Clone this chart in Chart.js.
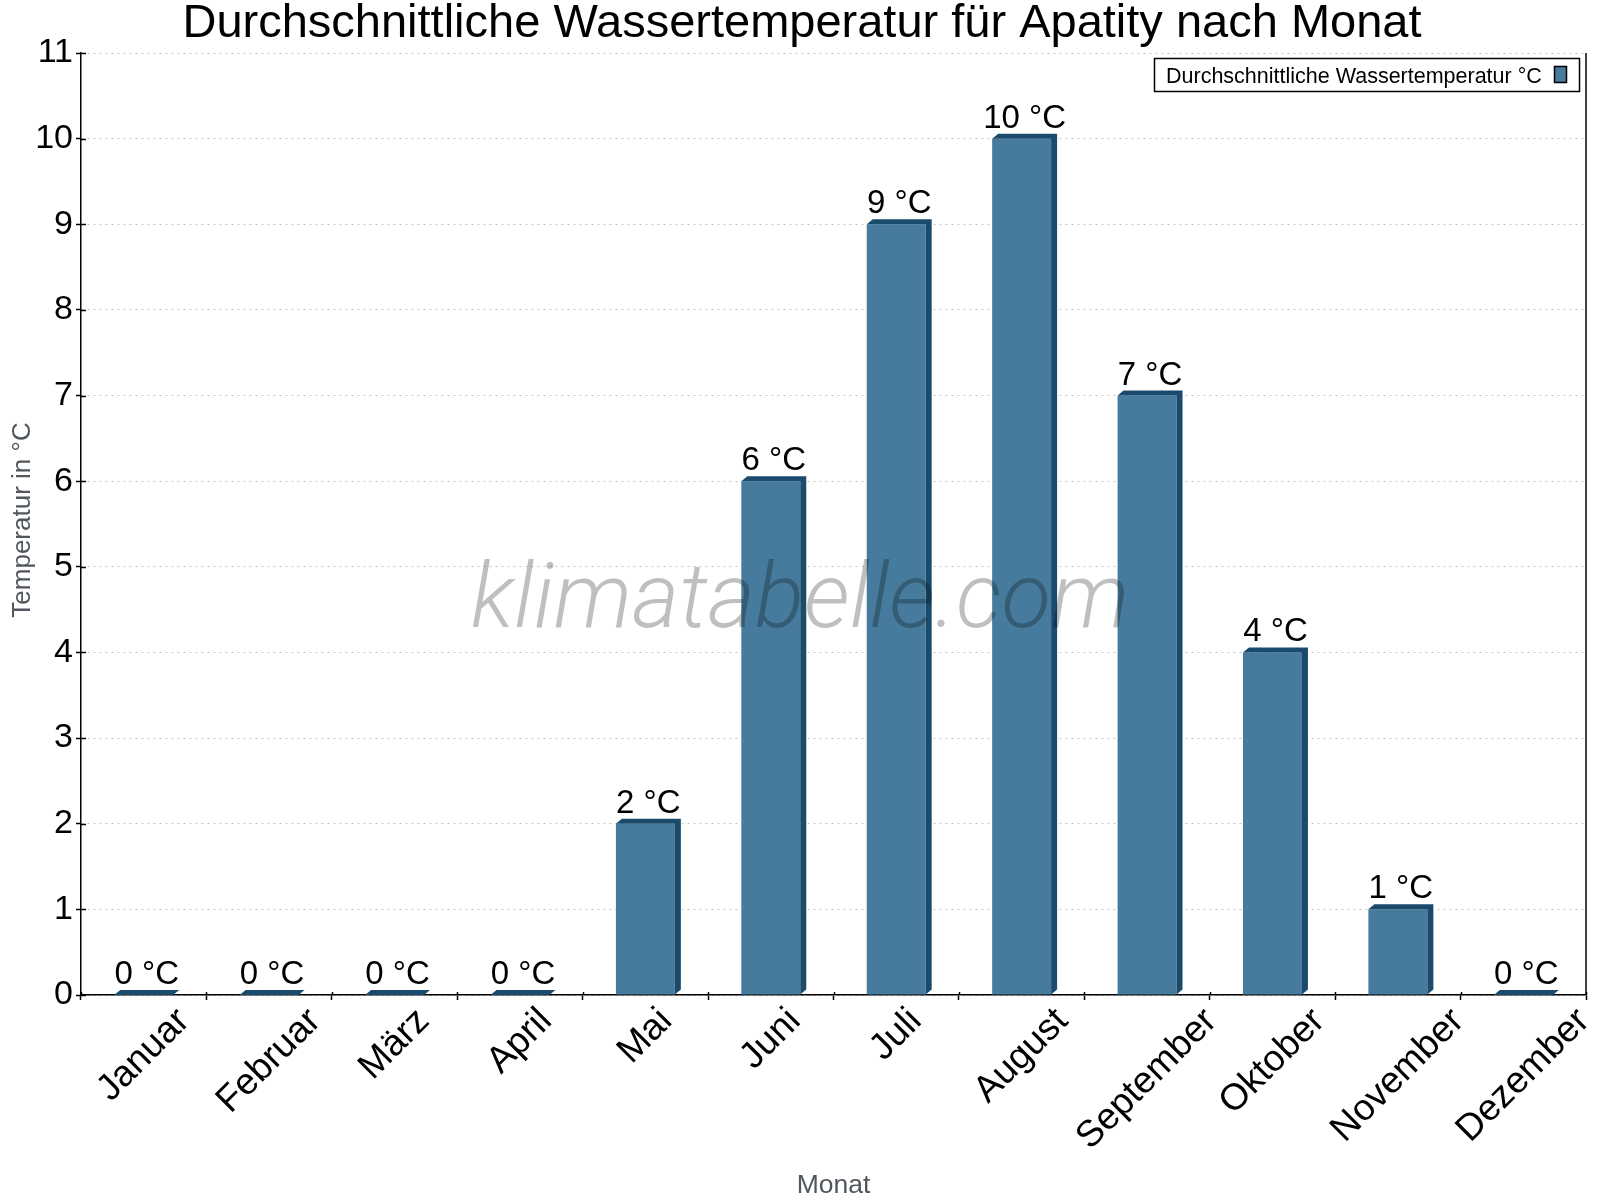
<!DOCTYPE html>
<html><head><meta charset="utf-8">
<script src="https://cdn.jsdelivr.net/npm/chart.js@4.4.1/dist/chart.umd.min.js"></script>
<style>html,body{margin:0;padding:0;background:#fff}canvas{display:block}</style>
</head><body>
<canvas id="c" width="1600" height="1200"></canvas>
<script>
// ---- data ----
const months = ['Januar','Februar','März','April','Mai','Juni','Juli','August','September','Oktober','November','Dezember'];
const waterTemp = [0, 0, 0, 0, 2, 6, 9, 10, 7, 4, 1, 0];
const yTickValues = [0,1,2,3,4,5,6,7,8,9,10,11];
const titleText = 'Durchschnittliche Wassertemperatur für Apatity nach Monat';
const seriesLabel = 'Durchschnittliche Wassertemperatur °C';
const yTitle = 'Temperatur in °C';
const xTitle = 'Monat';
const watermarkText = 'klimatabelle.com';
const unitSuffix = ' °C';

// ---- styles ----
const FONT = '"Liberation Sans", Arial, Helvetica, sans-serif';
const FRONT = '#467b9d';
const DARK = '#1a4b6c';
const GREY_TXT = '#51575d';
const DX = 6, DY = 5;

const decor = {
  id: 'decor',
  afterDatasetsDraw(chart) {
    const ctx = chart.ctx;
    const meta = chart.getDatasetMeta(0);
    ctx.save();
    // 3D top and side faces
    ctx.fillStyle = DARK;
    meta.data.forEach(bar => {
      const p = bar.getProps(['x','y','base','width'], true);
      const x0 = p.x - p.width/2, x1 = p.x + p.width/2, y = p.y, b = p.base;
      ctx.beginPath();
      ctx.moveTo(x0, y);
      ctx.lineTo(x0 + DX, y - DY);
      ctx.lineTo(x1 + DX, y - DY);
      ctx.lineTo(x1 + DX, b - DY);
      ctx.lineTo(x1, b);
      ctx.lineTo(x1, y);
      ctx.closePath();
      ctx.fill();
    });
    // value labels
    ctx.fillStyle = '#000';
    ctx.font = '33px ' + FONT;
    ctx.textAlign = 'center';
    ctx.textBaseline = 'alphabetic';
    meta.data.forEach((bar, i) => {
      const p = bar.getProps(['x','y'], true);
      ctx.fillText(chart.data.datasets[0].data[i] + unitSuffix, p.x + DX/2, p.y - 11);
    });
    ctx.restore();
  },
  afterDraw(chart) {
    const ctx = chart.ctx;
    const ca = chart.chartArea;
    const xs = chart.scales.x, ys = chart.scales.y;
    ctx.save();
    // right border
    ctx.strokeStyle = '#000';
    ctx.lineWidth = 1.5;
    ctx.beginPath();
    ctx.moveTo(ca.right, ca.top);
    ctx.lineTo(ca.right, ca.bottom);
    ctx.stroke();
    // inner tick stubs
    ys.ticks.forEach(t => {
      const py = Math.round(ys.getPixelForValue(t.value)) + 0.5;
      ctx.beginPath(); ctx.moveTo(ca.left, py); ctx.lineTo(ca.left + 5, py); ctx.stroke();
    });
    for (let i = 0; i <= months.length; i++) {
      const px = Math.round(xs.getPixelForValue(i - 0.5)) + 0.5;
      ctx.beginPath(); ctx.moveTo(px, ca.bottom); ctx.lineTo(px, ca.bottom - 3); ctx.stroke();
    }
    // x labels rotated -45, bbox centred on category
    ctx.fillStyle = '#000';
    ctx.font = '37px ' + FONT;
    ctx.textAlign = 'center';
    ctx.textBaseline = 'middle';
    const fh = 32;
    chart.data.labels.forEach((lab, i) => {
      const w = ctx.measureText(lab).width;
      const side = (w + fh) * Math.SQRT1_2;
      const cx = xs.getPixelForValue(i);
      const cy = 1004 + side / 2;
      ctx.save();
      ctx.translate(cx, cy);
      ctx.rotate(-Math.PI / 4);
      ctx.fillText(lab, 0, 0);
      ctx.restore();
    });
    // title
    ctx.font = '47px ' + FONT;
    ctx.textAlign = 'center';
    ctx.textBaseline = 'alphabetic';
    ctx.fillText(titleText, 802, 37);
    // axis titles
    ctx.fillStyle = GREY_TXT;
    ctx.font = '26.5px ' + FONT;
    ctx.fillText(xTitle, (ca.left + ca.right) / 2, 1193);
    ctx.save();
    ctx.translate(30, 520);
    ctx.rotate(-Math.PI / 2);
    ctx.font = '26px ' + FONT;
    ctx.fillText(yTitle, 0, 0);
    ctx.restore();
    // legend
    ctx.fillStyle = '#fff';
    ctx.fillRect(1154, 58, 426, 34);
    ctx.strokeStyle = '#000';
    ctx.lineWidth = 1.5;
    ctx.strokeRect(1154.5, 58.5, 425, 33);
    ctx.fillStyle = '#000';
    ctx.font = '21.5px ' + FONT;
    ctx.textAlign = 'left';
    ctx.fillText(chart.data.datasets[0].label, 1166, 83);
    ctx.fillStyle = FRONT;
    ctx.fillRect(1554, 66, 13, 17);
    ctx.strokeRect(1554.5, 66.5, 12, 16);
    // watermark
    ctx.font = 'italic 300 91px Roboto, sans-serif';
    ctx.textAlign = 'center';
    ctx.fillStyle = 'rgba(0,0,0,0.25)';
    ctx.fillText(watermarkText, 800, 627);
    ctx.restore();
  }
};

new Chart(document.getElementById('c'), {
  type: 'bar',
  data: {
    labels: months,
    datasets: [{
      label: seriesLabel,
      data: waterTemp,
      backgroundColor: FRONT,
      borderWidth: 0,
      barPercentage: 0.47,
      categoryPercentage: 1.0
    }]
  },
  options: {
    responsive: false,
    animation: false,
    devicePixelRatio: 1,
    layout: { padding: { top: 53, right: 14, left: 0, bottom: 0 } },
    plugins: { legend: { display: false }, tooltip: { enabled: false }, title: { display: false } },
    scales: {
      x: {
        offset: true,
        grid: { offset: true, drawOnChartArea: false, drawTicks: true, tickLength: 5, tickColor: '#000', tickWidth: 1.5 },
        border: { display: true, color: '#000', width: 1.5 },
        ticks: { display: false },
        afterFit: s => { s.height = 205; }
      },
      y: {
        min: 0, max: 11,
        afterBuildTicks: s => { s.ticks = yTickValues.map(v => ({ value: v })); },
        grid: { color: '#c4c4c4', lineWidth: 1, drawTicks: true, tickLength: 5, tickColor: '#000', tickWidth: 1.5 },
        border: { display: true, color: '#000', width: 1.5, dash: [2, 4] },
        ticks: { color: '#000', font: { size: 34, family: FONT }, padding: 3 },
        afterFit: s => { s.width = 81; }
      }
    }
  },
  plugins: [decor]
});
</script>
</body></html>
